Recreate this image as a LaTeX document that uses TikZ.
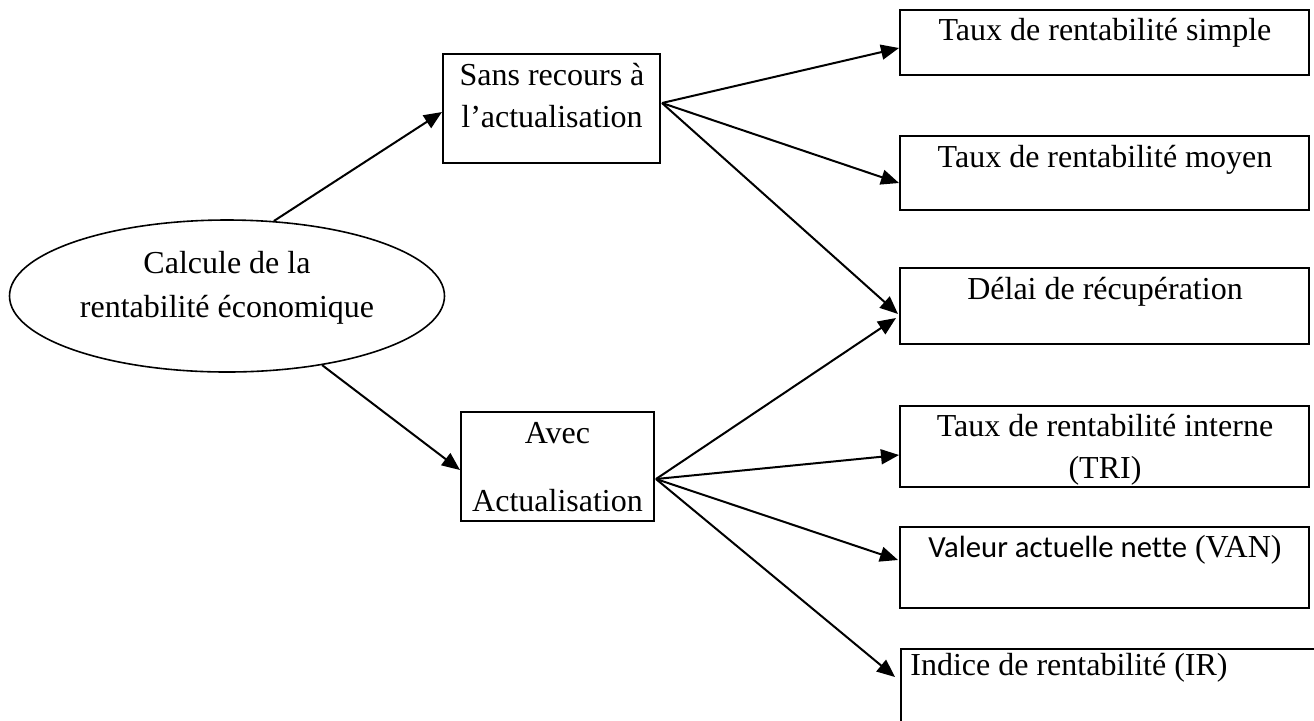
\documentclass[tikz,border=0pt]{standalone}
\usepackage{fontspec}
\setmainfont{Liberation Serif}
\newfontfamily\calibri[Ligatures=NoCommon,Scale=0.96]{Carlito}
\usetikzlibrary{arrows.meta,shapes.geometric,calc}
\begin{document}
\begin{tikzpicture}[x=0.5pt,y=-0.5pt,
  box/.style={draw,line width=1pt,inner sep=0pt,rectangle},
  txt/.style={anchor=base,inner sep=0pt,font=\fontsize{16}{19}\selectfont},
  arr/.style={line width=1pt,-{Triangle[length=9pt,width=7.5pt]}}]
\useasboundingbox (0,0) rectangle (1314,720);

% nodes
\node[draw,ellipse,line width=0.8pt,minimum width=217.5pt,minimum height=76pt,inner sep=0pt] (ell) at (227,296) {};
\node[box,minimum width=108.5pt,minimum height=54.5pt] (sans) at (551.5,108.5) {};
\node[box,minimum width=96.5pt,minimum height=54.5pt] (avec) at (557.5,466.5) {};
\node[box,minimum width=204.5pt,minimum height=32.5pt] (b1) at (1104.5,42.5) {};
\node[box,minimum width=204.5pt,minimum height=37pt] (b2) at (1104.5,173) {};
\node[box,minimum width=204.5pt,minimum height=38pt] (b3) at (1104.5,306) {};
\node[box,minimum width=204.5pt,minimum height=40.5pt] (b4) at (1104.5,446.5) {};
\node[box,minimum width=204.5pt,minimum height=40.5pt] (b5) at (1104.5,567.5) {};
\node[box,minimum width=219.5pt,minimum height=50.5pt] (b6) at (1120.5,699.5) {};

% texts
\node[txt] (e1) at (227,273) {Calcule de la};
\node[txt] (e2) at (227,317) {rentabilité économique};
\node[txt] (s1) at (552,85) {Sans recours à};
\node[txt] (s2) at (552,127) {l’actualisation};
\node[txt] (a1) at (557.5,443) {Avec};
\node[txt] (a2) at (557.5,511) {Actualisation};
\node[txt] (l1) at (1105,40) {Taux de rentabilité simple};
\node[txt] (l2) at (1105,167) {Taux de rentabilité moyen};
\node[txt] (l3) at (1105,299) {Délai de récupération};
\node[txt] (l4a) at (1105,436) {Taux de rentabilité interne};
\node[txt] (l4b) at (1105,478) {(TRI)};
\node[txt] (l5) at (1105,557) {{\calibri Valeur actuelle nette} (VAN)};
\node[txt,anchor=base west] (l6) at (910,675) {Indice de rentabilité (IR)};

% connectors
\coordinate (sansout) at ($(sans.east)+(1,-5.5)$);
\coordinate (avecout) at ($(avec.east)+(1,12.5)$);
\draw[arr] (ell.58) -- ($(sans.west)+(0,3.5)$);
\draw[arr] (ell.-36) -- ($(avec.west)+(0,3.5)$);
\draw[arr] (sansout) -- ($(b1.west)+(0,5.5)$);
\draw[arr] (sansout) -- ($(b2.west)+(0,10)$);
\draw[arr] (sansout) -- ($(b3.west)+(-1,8)$);
\draw[arr] (avecout) -- ($(b3.west)+(-3,12)$);
\draw[arr] (avecout) -- ($(b4.west)+(0,8.5)$);
\draw[arr] (avecout) -- ($(b5.west)+(-1,-7.5)$);
\draw[arr] (avecout) -- ($(b6.north west)+(-5,29)$);
\end{tikzpicture}
\end{document}
